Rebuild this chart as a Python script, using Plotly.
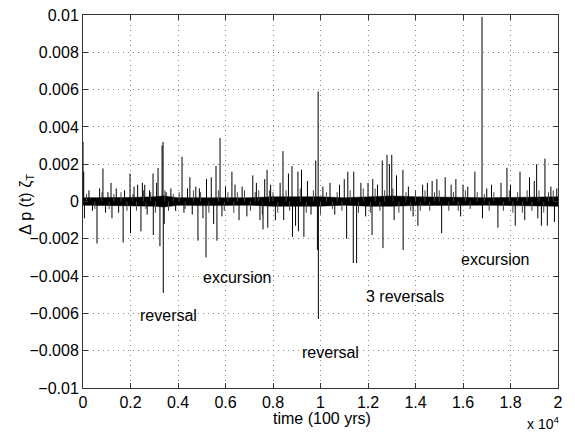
import plotly.graph_objects as go

# spikes: time (100 yrs) and value
spike_t = [0, 30, 60, 250, 400, 590, 700, 840, 950, 1050, 1180, 1220, 1400, 1500, 1690, 1750,
           1980, 2000, 2150, 2300, 2440, 2500, 2600, 2700, 2800, 2950, 2960, 3100, 3160, 3240,
           3330, 3370, 3380, 3420, 3500, 3700, 3900, 4170, 4250, 4400, 4500, 4600, 4750, 4840,
           4900, 5050, 5180, 5200, 5400, 5500, 5600, 5640, 5770, 5850, 6000, 6270, 6400, 6570,
           6700, 6900, 7150, 7300, 7450, 7580, 7650, 7750, 7780, 7900, 8100, 8300, 8420, 8450,
           8650, 8800, 8820, 8950, 9050, 9070, 9200, 9300, 9450, 9600, 9800, 9870, 9900, 9910,
           10100, 10400, 10600, 10800, 11000, 11100, 11150, 11380, 11400, 11520, 11700, 11900,
           12000, 12170, 12200, 12400, 12600, 12630, 12800, 12900, 13000, 13100, 13200, 13470,
           13480, 13700, 13900, 14100, 14300, 14500, 14700, 14900, 15100, 15250, 15500, 15700,
           15900, 16000, 16200, 16500, 16800, 16820, 17000, 17200, 17470, 17600, 17850, 18000,
           18200, 18400, 18600, 18800, 19000, 19100, 19150, 19300, 19450, 19550, 19700, 19850, 19950]
spike_v = [0.0032, 0.0016, -0.0009, 0.0006, -0.0005, -0.00225, 0.0007, 0.00177, -0.0006, 0.0005,
           0.0010, -0.0009, 0.0007, -0.0006, -0.0022, 0.0006, 0.0015, -0.0017, 0.0008, 0.0009,
           -0.0016, 0.0010, 0.0009, -0.0007, 0.0006, 0.0015, -0.0018, 0.0010, 0.0018, -0.0024,
           0.0030, 0.0032, -0.0049, -0.0012, 0.0005, 0.0007, -0.0005, 0.0024, -0.0006, 0.0007,
           0.0013, -0.0007, 0.0008, -0.0021, 0.0007, -0.0009, -0.0030, 0.0012, 0.0013, -0.0012,
           0.0019, -0.0021, 0.0034, -0.0008, 0.0008, 0.0016, 0.0009, -0.0010, 0.0008, -0.0008,
           0.0014, 0.0010, -0.0010, -0.0015, 0.0012, 0.0017, -0.0014, 0.0009, -0.0010, 0.0010,
           0.0027, -0.0010, 0.0015, 0.0019, -0.0019, -0.0013, 0.0016, -0.0016, 0.0017, -0.0019,
           0.0011, -0.0007, 0.0022, -0.0026, 0.0059, -0.0063, 0.0008, 0.0010, -0.0007, 0.0009,
           0.0012, -0.0020, 0.0016, -0.0033, 0.0016, -0.0033, 0.0010, -0.0008, 0.0010, -0.0018,
           0.0012, 0.0009, 0.0022, -0.0025, 0.0025, 0.0020, 0.0025, -0.0010, 0.0014, 0.0017,
           -0.0026, 0.0008, -0.0008, -0.0013, 0.0009, 0.0010, 0.0011, 0.0012, -0.0017, 0.0013,
           0.0009, 0.0012, -0.0008, 0.0009, 0.0008, 0.0016, 0.0099, -0.0009, 0.0007, 0.0009,
           -0.0014, 0.0010, 0.0018, 0.0009, -0.0013, 0.0016, -0.0010, 0.0013, 0.0011, 0.0020,
           -0.0009, -0.0013, 0.0023, -0.0013, 0.0008, -0.0011, 0.0007]

# small fringe spikes around the noise band
fringe_t = [150, 500, 800, 1100, 1300, 1600, 1850, 2100, 2250, 2550, 2650, 2850, 3050, 3450,
            3600, 3800, 4050, 4300, 4650, 4950, 5300, 5700, 5950, 6100, 6350, 6500, 6800,
            7050, 7250, 7400, 7550, 7850, 8000, 8200, 8550, 8700, 9150, 9400, 9700, 10000,
            10250, 10500, 10700, 10900, 11250, 11600, 11800, 12100, 12300, 12500, 12700,
            13050, 13300, 13600, 13800, 14000, 14200, 14400, 14600, 14800, 15000, 15400,
            15600, 15800, 16100, 16300, 16600, 16900, 17100, 17300, 17700, 17950, 18100,
            18300, 18500, 18700, 18900, 19200, 19400, 19600, 19800]
fringe_v = [0.0004, -0.0004, 0.0005, -0.0004, 0.0004, 0.0005, -0.0005, 0.0004, -0.0005, 0.0006,
            -0.0004, 0.0005, -0.0006, 0.0006, -0.0005, 0.0004, 0.0005, -0.0004, 0.0006, 0.0005,
            -0.0006, 0.0006, -0.0005, 0.0005, -0.0006, 0.0005, 0.0006, -0.0005, 0.0005,
            0.0006, -0.0007, 0.0006, 0.0005, -0.0006, 0.0006, -0.0005, 0.0007, -0.0006,
            0.0006, -0.0007, 0.0005, -0.0004, 0.0005, -0.0005, 0.0006, -0.0006, 0.0007,
            -0.0006, 0.0007, -0.0005, 0.0006, 0.0007, -0.0006, 0.0005, -0.0005, 0.0006,
            -0.0005, 0.0006, -0.0005, 0.0005, 0.0006, -0.0005, 0.0005, -0.0005, 0.0006,
            -0.0004, 0.0005, 0.0004, -0.0005, 0.0005, -0.0005, 0.0006, -0.0006, 0.0005,
            -0.0006, 0.0006, -0.0005, 0.0006, -0.0006, 0.0005, 0.0006]

# dense noise band envelope
band_t = [0, 1000, 2000, 3000, 3400, 4000, 5000, 6000, 7000, 8000, 9000, 10000, 11000,
          12000, 13000, 14000, 15000, 16000, 17000, 18000, 19000, 20000]
band_hi = [0.0002, 0.0002, 0.00022, 0.00025, 0.0003, 0.0002, 0.0002, 0.00022, 0.0002, 0.00025,
           0.00025, 0.00025, 0.0002, 0.00025, 0.0003, 0.00025, 0.00022, 0.0002, 0.0002, 0.00022,
           0.00025, 0.00025]
band_lo = [-0.0002, -0.0002, -0.00022, -0.00025, -0.0003, -0.0002, -0.00022, -0.00022, -0.0002,
           -0.00025, -0.00025, -0.00025, -0.0002, -0.00025, -0.00025, -0.00022, -0.0002, -0.0002,
           -0.0002, -0.00022, -0.00025, -0.00025]

labels = ["reversal", "excursion", "reversal", "3 reversals", "excursion"]
label_t = [3620, 6480, 10400, 13560, 17350]
label_v = [-0.0061, -0.0041, -0.0081, -0.0051, -0.0031]

xtick_vals = [0, 2000, 4000, 6000, 8000, 10000, 12000, 14000, 16000, 18000, 20000]
xtick_text = ["0", "0.2", "0.4", "0.6", "0.8", "1", "1.2", "1.4", "1.6", "1.8", "2"]
ytick_vals = [-0.01, -0.008, -0.006, -0.004, -0.002, 0, 0.002, 0.004, 0.006, 0.008, 0.01]
ytick_text = ["\u22120.01", "\u22120.008", "\u22120.006", "\u22120.004", "\u22120.002", "0",
              "0.002", "0.004", "0.006", "0.008", "0.01"]

FONT = "Liberation Sans, Arial, sans-serif"
FS = 16

fig = go.Figure()

fig.add_trace(go.Scatter(x=band_t + band_t[::-1], y=band_hi + band_lo[::-1],
                         fill="toself", fillcolor="black", mode="lines",
                         line=dict(color="black", width=0.5), hoverinfo="skip"))

fx, fy = [], []
for t, v in zip(fringe_t, fringe_v):
    fx += [t, t, None]
    fy += [0, v, None]
fig.add_trace(go.Scatter(x=fx, y=fy, mode="lines", line=dict(color="#444", width=1)))

sx, sy = [], []
for t, v in zip(spike_t, spike_v):
    sx += [t, t, None]
    sy += [0, v, None]
fig.add_trace(go.Scatter(x=sx, y=sy, mode="lines", line=dict(color="black", width=1)))

for txt, t, v in zip(labels, label_t, label_v):
    fig.add_annotation(x=t, y=v, text=txt, showarrow=False, xanchor="center", yanchor="middle",
                       font=dict(family=FONT, size=FS, color="black"))

# page body adds 8 px offset, so positions below are in plot-area terms
fig.add_annotation(xref="x domain", yref="y domain", x=(543 - 83) / 475, y=-(423 - 388) / 373,
                   text="x 10<sup>4</sup>", showarrow=False, xanchor="center", yanchor="middle",
                   font=dict(family=FONT, size=14, color="black"))
fig.add_annotation(xref="x domain", yref="y domain", x=(322 - 83) / 475, y=-(418 - 388) / 373,
                   text="time (100 yrs)", showarrow=False, xanchor="center", yanchor="middle",
                   font=dict(family=FONT, size=FS, color="black"))
fig.add_annotation(xref="x domain", yref="y domain", x=-(83 - 26) / 475, y=(388 - 205) / 373,
                   text="\u0394 p (t) \u03b6<sub>T</sub>", showarrow=False, textangle=-90,
                   xanchor="center", yanchor="middle",
                   font=dict(family=FONT, size=FS, color="black"))

axis_common = dict(showline=True, linecolor="#333", linewidth=1, mirror="ticks",
                   ticks="inside", ticklen=5, tickcolor="#333", automargin=False,
                   ticklabeloverflow="allow",
                   showgrid=True, gridcolor="#888", griddash="1px,4px", gridwidth=1,
                   zeroline=False, tickfont=dict(family=FONT, size=FS, color="black"))

fig.update_xaxes(range=[0, 20000], tickvals=xtick_vals, ticktext=xtick_text, **axis_common)
fig.update_yaxes(range=[-0.01, 0.01], tickvals=ytick_vals, ticktext=ytick_text, **axis_common)

fig.update_layout(width=567, height=424, showlegend=False,
                  paper_bgcolor="white", plot_bgcolor="white",
                  margin=dict(l=75, r=17, t=7, b=44))

fig.write_html("out.html")
